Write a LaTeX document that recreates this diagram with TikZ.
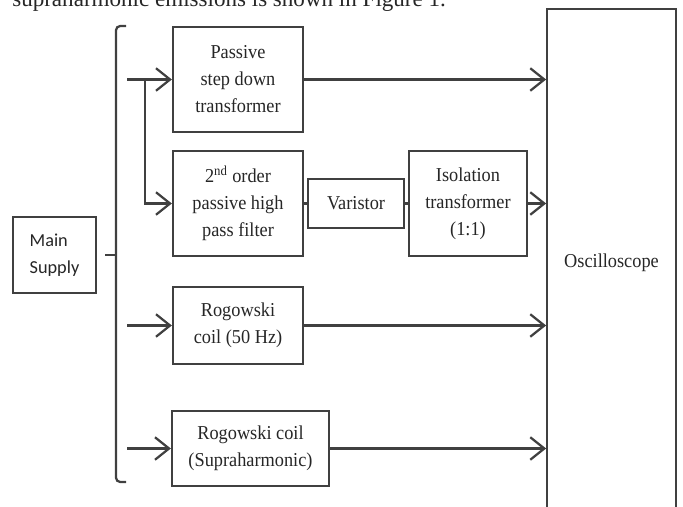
\documentclass[tikz,border=0pt]{standalone}
\usepackage{fontspec}
\setmainfont{Liberation Serif}
\newfontfamily\boxfont[FakeStretch=0.93]{Liberation Serif}
\newfontfamily\calfont{Carlito}
\usetikzlibrary{arrows.meta}
\definecolor{linegray}{HTML}{404040}

\begin{document}
\begin{tikzpicture}[x=0.025cm, y=-0.025cm,
    blk/.style={draw=linegray, line width=1.6pt, inner sep=0pt, align=center, text=black!85,
      font=\boxfont\fontsize{14}{19.2}\selectfont},
    arr/.style={draw=linegray, line width=1.6pt, -{Straight Barb[length=10pt,width=16pt]}},
    wire/.style={draw=linegray, line width=1.6pt}]
  \useasboundingbox (0,0) rectangle (683,506);
  \clip (0,0) rectangle (683,506);
  \node[anchor=base west, inner sep=0pt, text=black!85, font=\fontsize{16.4}{20}\selectfont] (caption) at (12,6) {supraharmonic emissions is shown in Figure 1.};

  \node[blk, font=\calfont\fontsize{13}{19.5}\selectfont, align=left, minimum width=2.075cm, minimum height=1.9cm] (sup) at (54.5,255) {Main\\Supply};
  \node[blk, minimum width=3.25cm, minimum height=2.625cm] (pst) at (238,79.5) {Passive\\step down\\transformer};
  \node[blk, minimum width=3.25cm, minimum height=2.625cm] (hpf) at (238,203.5) {2\textsuperscript{nd} order\\passive high\\pass filter};
  \node[blk, minimum width=2.4cm, minimum height=1.225cm] (var) at (356,203.5) {Varistor};
  \node[blk, minimum width=2.95cm, minimum height=2.625cm] (iso) at (468,203.5) {Isolation\\transformer\\(1:1)};
  \node[blk, minimum width=3.25cm, minimum height=1.925cm] (rogl) at (238,325.5) {Rogowski\\coil (50 Hz)};
  \node[blk, minimum width=3.925cm, minimum height=1.875cm] (rogs) at (250.5,448.5) {Rogowski coil\\(Supraharmonic)};
  \node[blk, line width=1.2pt, minimum width=3.225cm, minimum height=12.7cm] (osc) at (611.5,263) {Oscilloscope};

  \draw[wire, rounded corners=3pt] (126,26) -- (116,26) -- (116,482) -- (126,482);
  \draw[wire] (116,255) -- (105,255);

  \coordinate (feed) at (127,0);
  \coordinate (split) at (145,79.5);
  \draw[arr] (feed |- pst.west) -- (pst.west);
  \draw[arr] (split) |- (hpf.west);
  \draw[arr] (feed |- rogl.west) -- (rogl.west);
  \draw[arr] (feed |- rogs.west) -- (rogs.west);

  \draw[wire] (hpf.east) -- (var.west);
  \draw[wire] (var.east) -- (iso.west);

  \draw[arr] (pst.east) -- (pst.east -| osc.west);
  \draw[arr] (iso.east) -- (iso.east -| osc.west);
  \draw[arr] (rogl.east) -- (rogl.east -| osc.west);
  \draw[arr] (rogs.east) -- (rogs.east -| osc.west);
\end{tikzpicture}
\end{document}
